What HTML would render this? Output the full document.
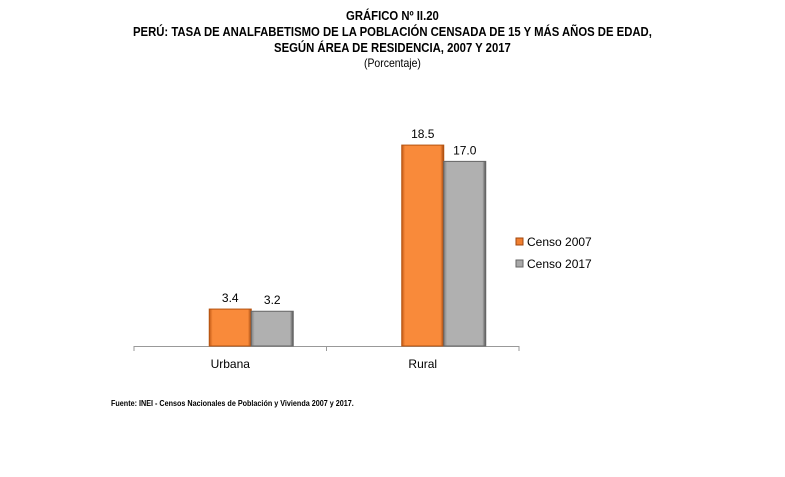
<!DOCTYPE html>
<html><head><meta charset="utf-8"><style>
body{margin:0;background:#fff;width:785px;height:477px;overflow:hidden;font-family:"Liberation Sans",sans-serif}
.t{position:absolute;left:0;width:785px;text-align:center;font-weight:bold;font-size:13px;color:#000;transform:scaleX(0.87);transform-origin:392px 0}
</style></head><body>
<div class="t" style="top:8px">GRÁFICO Nº II.20</div>
<div class="t" style="top:24px">PERÚ: TASA DE ANALFABETISMO DE LA POBLACIÓN CENSADA DE 15 Y MÁS AÑOS DE EDAD,</div>
<div class="t" style="top:40px">SEGÚN ÁREA DE RESIDENCIA, 2007 Y 2017</div>
<div class="t" style="top:56px;font-weight:normal;font-size:12px">(Porcentaje)</div>
<svg id="c" width="785" height="477" style="position:absolute;left:0;top:0">
<defs>
<linearGradient id="go" x1="0" x2="1"><stop offset="0" stop-color="#c25a16"/><stop offset="0.08" stop-color="#f98a3a"/><stop offset="0.92" stop-color="#f98a3a"/><stop offset="1" stop-color="#a0470f"/></linearGradient>
<linearGradient id="gg" x1="0" x2="1"><stop offset="0" stop-color="#808080"/><stop offset="0.08" stop-color="#b0b0b0"/><stop offset="0.92" stop-color="#b0b0b0"/><stop offset="1" stop-color="#555"/></linearGradient>
</defs>
</svg>
<div style="position:absolute;left:111px;top:399px;font-size:8px;font-weight:bold;transform:scaleX(0.9);transform-origin:0 0">Fuente: INEI - Censos Nacionales de Población y Vivienda 2007 y 2017.</div>
<script>
const categories=["Urbana","Rural"];
const series2007=[3.4,18.5];
const series2017=[3.2,17.0];
const seriesNames=["Censo 2007","Censo 2017"];
const svg=document.getElementById('c');const NS='http://www.w3.org/2000/svg';
function mk(t,a){const e=document.createElementNS(NS,t);for(const k in a)e.setAttribute(k,a[k]);svg.appendChild(e);return e;}
const base=346,scale=10.86,x0=134,x1=519,bw=42;
const y=v=>base-v*scale;
const cw=(x1-x0)/categories.length;
let ax=mk('line',{x1:x0,x2:x1,y1:base+0.5,y2:base+0.5,stroke:'#999'});

for(let i=0;i<=categories.length;i++){let tk=mk('line',{x1:x0+i*cw,x2:x0+i*cw,y1:base,y2:base+5,stroke:'#999'});
}
[series2007,series2017].forEach((s,si)=>{s.forEach((v,i)=>{
const cx=x0+cw*(i+0.5);const bx=cx-21+si*bw;
const r=mk('rect',{x:bx,y:y(v),width:bw,height:v*scale,fill:si?'url(#gg)':'url(#go)',stroke:si?'#666':'#b5520f','stroke-width':1});

const t=mk('text',{x:bx+bw/2,y:y(v)-7,'text-anchor':'middle','font-size':12,'font-family':'Liberation Sans'});t.textContent=v.toFixed(1);

});});
categories.forEach((c,i)=>{const t=mk('text',{x:x0+cw*(i+0.5),y:base+22,'text-anchor':'middle','font-size':12,'font-family':'Liberation Sans'});t.textContent=c;
});
seriesNames.forEach((n,i)=>{const ly=238+i*22;
const r=mk('rect',{x:516,y:ly,width:7,height:7,fill:i?'#a8a8a8':'#f07f30',stroke:i?'#666':'#a0470f'});

const t=mk('text',{x:527,y:ly+8,'font-size':12,'font-family':'Liberation Sans'});t.textContent=n;
});
</script>
</body></html>
